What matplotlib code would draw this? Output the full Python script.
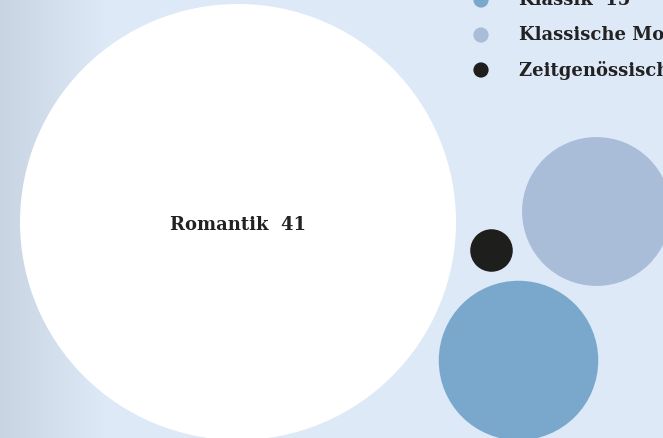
import numpy as np
import matplotlib.pyplot as plt
from matplotlib.patches import Circle
from matplotlib.colors import LinearSegmentedColormap

# Epochen und Anzahl der Stuecke
epochs = ["Romantik", "Klassik", "Klassische Moderne", "Zeitgenössisch"]
counts = [41, 15, 14, 4]
colors = ["#ffffff", "#7aa8cd", "#aabdd8", "#1e1e1c"]

# layout: bubble centres in pixels (packing result)
centers = [(238, 222), (518.5, 360.5), (596.5, 211.5), (491.5, 250.5)]
px_per_unit = 218 / 41  # radius grows linearly with the count

W, H = 663, 438
bg = "#dee9f7"
fig = plt.figure(figsize=(W / 100, H / 100), dpi=100, facecolor=bg)
ax = fig.add_axes([0, 0, 1, 1])
ax.set_xlim(0, W)
ax.set_ylim(H, 0)
ax.set_aspect("equal")
ax.axis("off")
ax.set_facecolor(bg)

# grey-blue fade on the left edge
grad = LinearSegmentedColormap.from_list("fade", ["#c8d4e2", bg])
ax.imshow(np.linspace(0, 1, 256)[None, :], cmap=grad, aspect="auto",
          extent=[0, 105, H, 0], zorder=0)

font = dict(family="DejaVu Serif", weight="bold", color="#222222")

for name, n, col, (cx, cy) in zip(epochs, counts, colors, centers):
    ax.add_patch(Circle((cx, cy), n * px_per_unit, facecolor=col,
                        edgecolor="none", zorder=2))

# label only on the biggest bubble
ax.text(centers[0][0], centers[0][1] + 2.5, f"{epochs[0]}  {counts[0]}",
        ha="center", va="center", fontsize=13, zorder=3, **font)

# legend, runs off the top/right edge
for i, (name, n, col) in enumerate(zip(epochs, counts, colors)):
    y = -35 + 35 * i
    ax.scatter([481], [y], s=120, color=col, edgecolors="none",
               zorder=3, clip_on=False)
    ax.text(519, y, f"{name}  {n}", ha="left", va="center",
            fontsize=13, zorder=3, clip_on=False, **font)

fig.savefig("out.png", dpi=100, facecolor=bg)
